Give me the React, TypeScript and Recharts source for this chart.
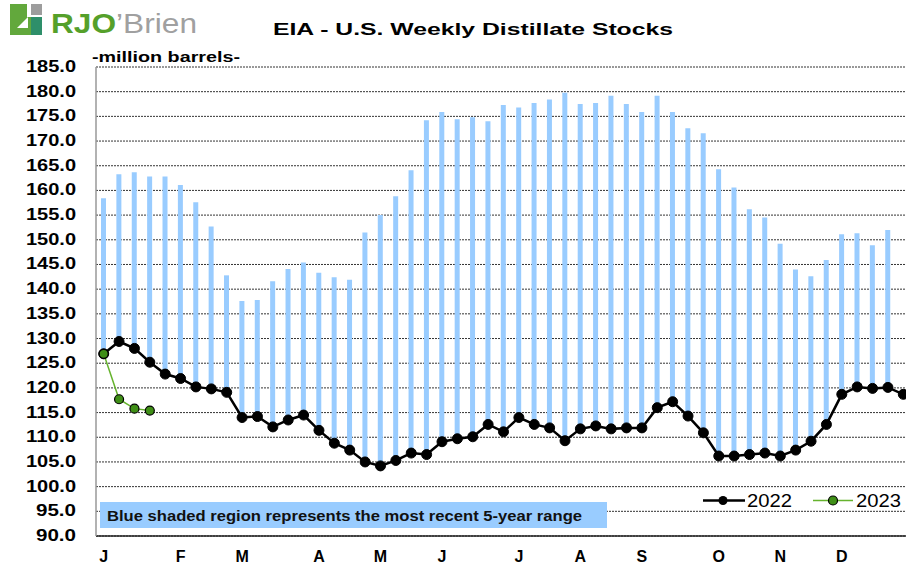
import { Bar, CartesianGrid, ComposedChart, Line, XAxis, YAxis } from "recharts";

const monthLetters = ["J", "F", "M", "A", "M", "J", "J", "A", "S", "O", "N", "D"];
const monthStartWeeks = [0, 5, 9, 14, 18, 22, 27, 31, 35, 40, 44, 48];

const stocks2022 = [
  126.9, 129.4, 128.0, 125.2, 122.8, 121.9, 120.2, 119.8, 119.1, 114.0, 114.2, 112.1, 113.5,
  114.5, 111.4, 108.8, 107.4, 105.0, 104.2, 105.3, 106.8, 106.5, 109.1, 109.7, 110.1, 112.6,
  111.1, 114.0, 112.6, 111.9, 109.3, 111.7, 112.3, 111.7, 111.9, 111.9, 116.0, 117.2, 114.3,
  110.9, 106.2, 106.2, 106.5, 106.8, 106.2, 107.4, 109.2, 112.6, 118.7, 120.2, 119.9, 120.1,
  118.7,
];
const stocks2023 = [126.9, 117.7, 115.8, 115.4];

// 5-year range (min / max), one bar per week
const rangeLow = [
  126.9, 129.4, 128.0, 125.2, 122.8, 121.9, 120.2, 119.8, 119.1, 114.0, 114.2, 112.1, 113.5,
  114.5, 111.4, 108.8, 107.4, 105.0, 104.2, 105.3, 106.8, 106.5, 109.1, 109.7, 110.1, 112.6,
  111.1, 114.0, 112.6, 111.9, 109.3, 111.7, 112.3, 111.7, 111.9, 111.9, 116.0, 117.2, 114.3,
  110.9, 106.2, 106.2, 106.5, 106.8, 106.2, 107.4, 109.2, 112.6, 118.7, 120.2, 119.9, 120.1,
];
const rangeHigh = [
  158.4, 163.3, 163.7, 162.8, 162.8, 161.1, 157.6, 152.7, 142.8, 137.6, 137.8, 141.6, 144.1,
  145.4, 143.3, 142.4, 141.9, 151.5, 155.0, 158.8, 164.1, 174.2, 175.9, 174.4, 174.8, 174.0,
  177.3, 176.8, 177.7, 178.4, 179.8, 177.5, 177.7, 179.2, 177.5, 175.9, 179.2, 175.9, 172.6,
  171.6, 164.3, 160.6, 156.2, 154.5, 149.2, 144.0, 142.6, 145.9, 151.1, 151.3, 148.9, 152.0,
];

const yTicks = [90, 95, 100, 105, 110, 115, 120, 125, 130, 135, 140, 145, 150, 155, 160, 165, 170, 175, 180, 185];

const data = stocks2022.map((v, i) => ({
  wk: i,
  y2022: v,
  y2023: i < stocks2023.length ? stocks2023[i] : null,
  range: i < rangeHigh.length ? [rangeLow[i], rangeHigh[i]] : null,
}));

const FONT = '"Liberation Sans", Arial, sans-serif';

function YTick(props: any) {
  const label = Number(props.payload.value).toFixed(1);
  return (
    <text
      x={props.x}
      y={props.y + 5}
      textAnchor="end"
      fontFamily={FONT}
      fontWeight="bold"
      fontSize={16}
      fill="#000"
      textLength={label.length * 10}
      lengthAdjust="spacingAndGlyphs"
    >
      {label}
    </text>
  );
}

function Overlay() {
  return (
    <svg
      width={906}
      height={570}
      style={{ position: "absolute", left: 0, top: 0, pointerEvents: "none" }}
      fontFamily={FONT}
    >
      {/* logo */}
      <rect x={10} y={4} width={32} height={31} fill="#62a83c" />
      <rect x={31} y={4} width={11} height={11} fill="#9d9d9d" />
      <rect x={31} y={17} width={11} height={18} fill="#2e8f6a" />
      <rect x={27} y={4} width={4} height={13} fill="#fff" />
      <rect x={27} y={15} width={15} height={2} fill="#fff" />
      <polygon points="17,28 28,17 28,28" fill="#fff" />
      <text x={51} y={33} fontSize={28} textLength={146} lengthAdjust="spacingAndGlyphs">
        <tspan fill="#55a02a" fontWeight="bold">RJO</tspan>
        <tspan fill="#a0a0a0">’Brien</tspan>
      </text>

      <text x={273} y={35} fontSize={17} fontWeight="bold" fill="#000" textLength={400} lengthAdjust="spacingAndGlyphs">
        EIA - U.S. Weekly Distillate Stocks
      </text>
      <text x={92} y={62} fontSize={15} fontWeight="bold" fill="#000" textLength={148} lengthAdjust="spacingAndGlyphs">
        -million barrels-
      </text>

      {/* note box */}
      <rect x={100} y={502} width={507} height={26} fill="#99ccff" />
      <text x={107} y={521} fontSize={15} fontWeight="bold" fill="#111" textLength={475} lengthAdjust="spacingAndGlyphs">
        Blue shaded region represents the most recent 5-year range
      </text>

      {/* legend */}
      <line x1={703} y1={500.5} x2={745} y2={500.5} stroke="#000" strokeWidth={2.5} />
      <circle cx={723} cy={500.5} r={4.5} fill="#000" />
      <text x={747} y={507} fontSize={18} fill="#000" textLength={45} lengthAdjust="spacingAndGlyphs">
        2022
      </text>
      <line x1={813} y1={500.5} x2={853} y2={500.5} stroke="#66b32e" strokeWidth={1.5} />
      <circle cx={833} cy={500.5} r={4.5} fill="#3f8f16" stroke="#000" strokeWidth={1.2} />
      <text x={856} y={507} fontSize={18} fill="#000" textLength={45} lengthAdjust="spacingAndGlyphs">
        2023
      </text>
    </svg>
  );
}

export default function App() {
  return (
    <div
      style={{
        position: "fixed",
        left: 0,
        top: 0,
        width: 906,
        height: 570,
        overflow: "hidden",
        background: "#fff",
      }}
    >
      <ComposedChart
        width={911}
        height={570}
        data={data}
        margin={{ top: 67, right: 0, bottom: 4, left: 0 }}
      >
        <CartesianGrid vertical={false} stroke="#333" strokeDasharray="2 1" />
        <XAxis
          dataKey="wk"
          type="category"
          ticks={monthStartWeeks}
          interval={0}
          tickFormatter={(v: number) => monthLetters[monthStartWeeks.indexOf(v)] ?? ""}
          height={30}
          axisLine={{ stroke: "#222", strokeWidth: 1.5 }}
          tickLine={false}
          tickSize={0}
          tickMargin={15}
          tick={{ fill: "#000", fontSize: 16, fontWeight: "bold", fontFamily: FONT }}
        />
        <YAxis
          domain={[90, 185]}
          ticks={yTicks}
          interval={0}
          allowDataOverflow
          width={96}
          axisLine={{ stroke: "#999", strokeWidth: 1.5 }}
          tickLine={false}
          tickSize={0}
          tickMargin={20}
          tick={<YTick />}
        />
        <Bar dataKey="range" barSize={5} fill="#99ccff" isAnimationActive={false} />
        <Line
          dataKey="y2022"
          stroke="#000"
          strokeWidth={2.5}
          dot={{ r: 5, fill: "#000", stroke: "#000", strokeWidth: 1 }}
          activeDot={false}
          isAnimationActive={false}
        />
        <Line
          dataKey="y2023"
          stroke="#66b32e"
          strokeWidth={1.5}
          dot={{ r: 4.5, fill: "#3f8f16", stroke: "#000", strokeWidth: 1.2 }}
          activeDot={false}
          connectNulls={false}
          isAnimationActive={false}
        />
      </ComposedChart>
      <Overlay />
    </div>
  );
}
